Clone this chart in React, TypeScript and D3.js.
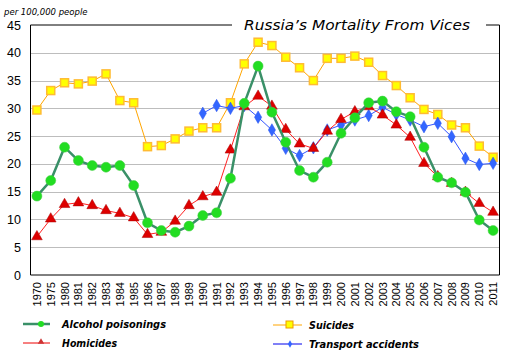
import React from "react";
import * as d3 from "d3";

const years = ["1970","1975","1980","1981","1982","1983","1984","1985","1986","1987","1988","1989","1990","1991","1992","1993","1994","1995","1996","1997","1998","1999","2000","2001","2002","2003","2004","2005","2006","2007","2008","2009","2010","2011"];

const alcohol = [14.2,17.0,23.0,20.6,19.7,19.4,19.7,16.1,9.4,8.0,7.7,8.8,10.7,11.2,17.4,30.9,37.6,29.3,23.9,18.8,17.6,20.3,25.5,28.3,31.0,31.3,29.4,28.5,23.0,17.6,16.6,14.9,9.9,8.0];
const homicides = [6.9,10.1,12.7,13.0,12.5,11.6,11.1,10.3,7.3,7.7,9.7,12.5,14.1,14.9,22.5,30.3,32.2,30.4,26.2,23.6,22.8,25.9,28.0,29.4,30.3,28.8,27.0,24.8,20.1,17.7,16.5,14.9,12.9,11.3];
const suicides = [29.7,33.2,34.6,34.4,34.9,36.2,31.4,31.0,23.1,23.3,24.5,25.9,26.5,26.5,31.0,38.0,41.9,41.3,39.2,37.3,35.0,39.0,39.0,39.4,38.3,35.9,34.1,31.9,29.8,28.9,27.0,26.5,23.2,21.2];
const transport: (number | null)[] = [null,null,null,null,null,null,null,null,null,null,null,null,29.1,30.5,30.0,30.5,28.4,26.1,22.8,21.5,22.9,26.1,27.0,27.9,28.7,30.2,28.9,27.9,26.7,27.3,24.9,21.0,19.9,20.1];
const yTicks = [0,5,10,15,20,25,30,35,40,45];

const W = 516, H = 360;
const L = 30.5, R = 499.5, T = 25, B = 275;

export default function App() {
  const x = d3.scaleBand<string>().domain(years).range([L, R + 1]).paddingInner(0).paddingOuter(0);
  const y = d3.scaleLinear().domain([0, 45]).range([B, T]);
  const cx = (i: number) => (x(years[i]) as number) + x.bandwidth() / 2 - 0.5;

  const lineGen = (vals: (number | null)[]) =>
    d3.line<number | null>()
      .defined((d) => d !== null)
      .x((_, i) => cx(i))
      .y((d) => y(d as number))(vals) as string;

  const tri = d3.symbol().type(d3.symbolTriangle).size(50)() as string;
  const dia = d3.symbol().type(d3.symbolDiamond).size(45)() as string;

  const legendFont = { fontFamily: "DejaVu Sans, Verdana, sans-serif", fontSize: 10, fontWeight: 700, fontStyle: "italic" as const, lengthAdjust: "spacingAndGlyphs" as const };

  return (
    <svg width={W} height={H} style={{ position: "absolute", left: 0, top: 0, background: "#fff" }}>
      <rect x={0} y={0} width={W} height={H} fill="#fff" />
      {yTicks.filter((t) => t > 0 && t < 45).map((t) => (
        <line key={t} x1={L} x2={R} y1={Math.round(y(t)) + 0.5} y2={Math.round(y(t)) + 0.5} stroke="#bdbdbd" strokeWidth={1} />
      ))}
      <line x1={L} x2={L} y1={T} y2={B} stroke="#000" />
      <line x1={L} x2={R} y1={B} y2={B} stroke="#000" />
      <line x1={R} x2={R} y1={T} y2={B} stroke="#000" />
      <line x1={L} x2={232} y1={T} y2={T} stroke="#000" />
      <line x1={486} x2={R} y1={T} y2={T} stroke="#000" />
      <text x={244} y={30} fontFamily="DejaVu Sans, Verdana, sans-serif" fontStyle="italic" fontSize={14.5} textLength={226} lengthAdjust="spacingAndGlyphs">Russia’s Mortality From Vices</text>
      <text x={4} y={15} fontFamily="DejaVu Sans, Verdana, sans-serif" fontStyle="italic" fontSize={8.5}>per 100,000 people</text>
      {yTicks.map((t) => (
        <text key={t} x={21} y={y(t) + 4.5} textAnchor="end" fontFamily="Liberation Sans, Arial, sans-serif" fontSize={12.5}>{t}</text>
      ))}
      {years.map((yr, i) => (
        <text key={yr} transform={`translate(${cx(i) + 4},282) rotate(-90)`} textAnchor="end" fontFamily="Liberation Sans, Arial, sans-serif" fontSize={11}>{yr}</text>
      ))}
      <path d={lineGen(suicides)} fill="none" stroke="#ffa500" strokeWidth={1} />
      {suicides.map((v, i) => (
        <rect key={i} x={cx(i) - 4} y={y(v) - 4} width={8} height={8} fill="#ffff00" stroke="#ffbb33" strokeWidth={1.5} />
      ))}
      <path d={lineGen(transport)} fill="none" stroke="#3355ff" strokeWidth={1} />
      {transport.map((v, i) => v === null ? null : (
        <path key={i} d={dia} transform={`translate(${cx(i)},${y(v)})`} fill="#3366ff" stroke="#2a55ee" strokeWidth={0.5} />
      ))}
      <path d={lineGen(homicides)} fill="none" stroke="#ff2020" strokeWidth={1} />
      {homicides.map((v, i) => (
        <path key={i} d={tri} transform={`translate(${cx(i)},${y(v)})`} fill="#dd0000" stroke="#aa0000" strokeWidth={0.5} />
      ))}
      <path d={lineGen(alcohol)} fill="none" stroke="#3a9068" strokeWidth={2.5} />
      {alcohol.map((v, i) => (
        <circle key={i} cx={cx(i)} cy={y(v)} r={5} fill="#22dd22" stroke="#44cc44" strokeWidth={0.5} />
      ))}
      <line x1={23} x2={50} y1={324} y2={324} stroke="#3a9068" strokeWidth={2.5} />
      <circle cx={41} cy={324} r={3} fill="#22dd22" />
      <text x={62} y={328} textLength={104} {...legendFont}>Alcohol poisonings</text>
      <line x1={23} x2={50} y1={343} y2={343} stroke="#ee0000" strokeWidth={1} />
      <path d={d3.symbol().type(d3.symbolTriangle).size(18)() as string} transform="translate(41,342)" fill="#cc3333" />
      <text x={62} y={347} textLength={55} {...legendFont}>Homicides</text>
      <line x1={273} x2={302} y1={325} y2={325} stroke="#ffa500" strokeWidth={1} />
      <rect x={286} y={321} width={7} height={7} fill="#ffff00" stroke="#ee9900" strokeWidth={1} />
      <text x={309} y={329} textLength={45} {...legendFont}>Suicides</text>
      <line x1={273} x2={302} y1={344} y2={344} stroke="#0000ee" strokeWidth={1} />
      <path d={d3.symbol().type(d3.symbolDiamond).size(16)() as string} transform="translate(290,344)" fill="#3366ff" />
      <text x={309} y={348} textLength={110} {...legendFont}>Transport accidents</text>
    </svg>
  );
}
